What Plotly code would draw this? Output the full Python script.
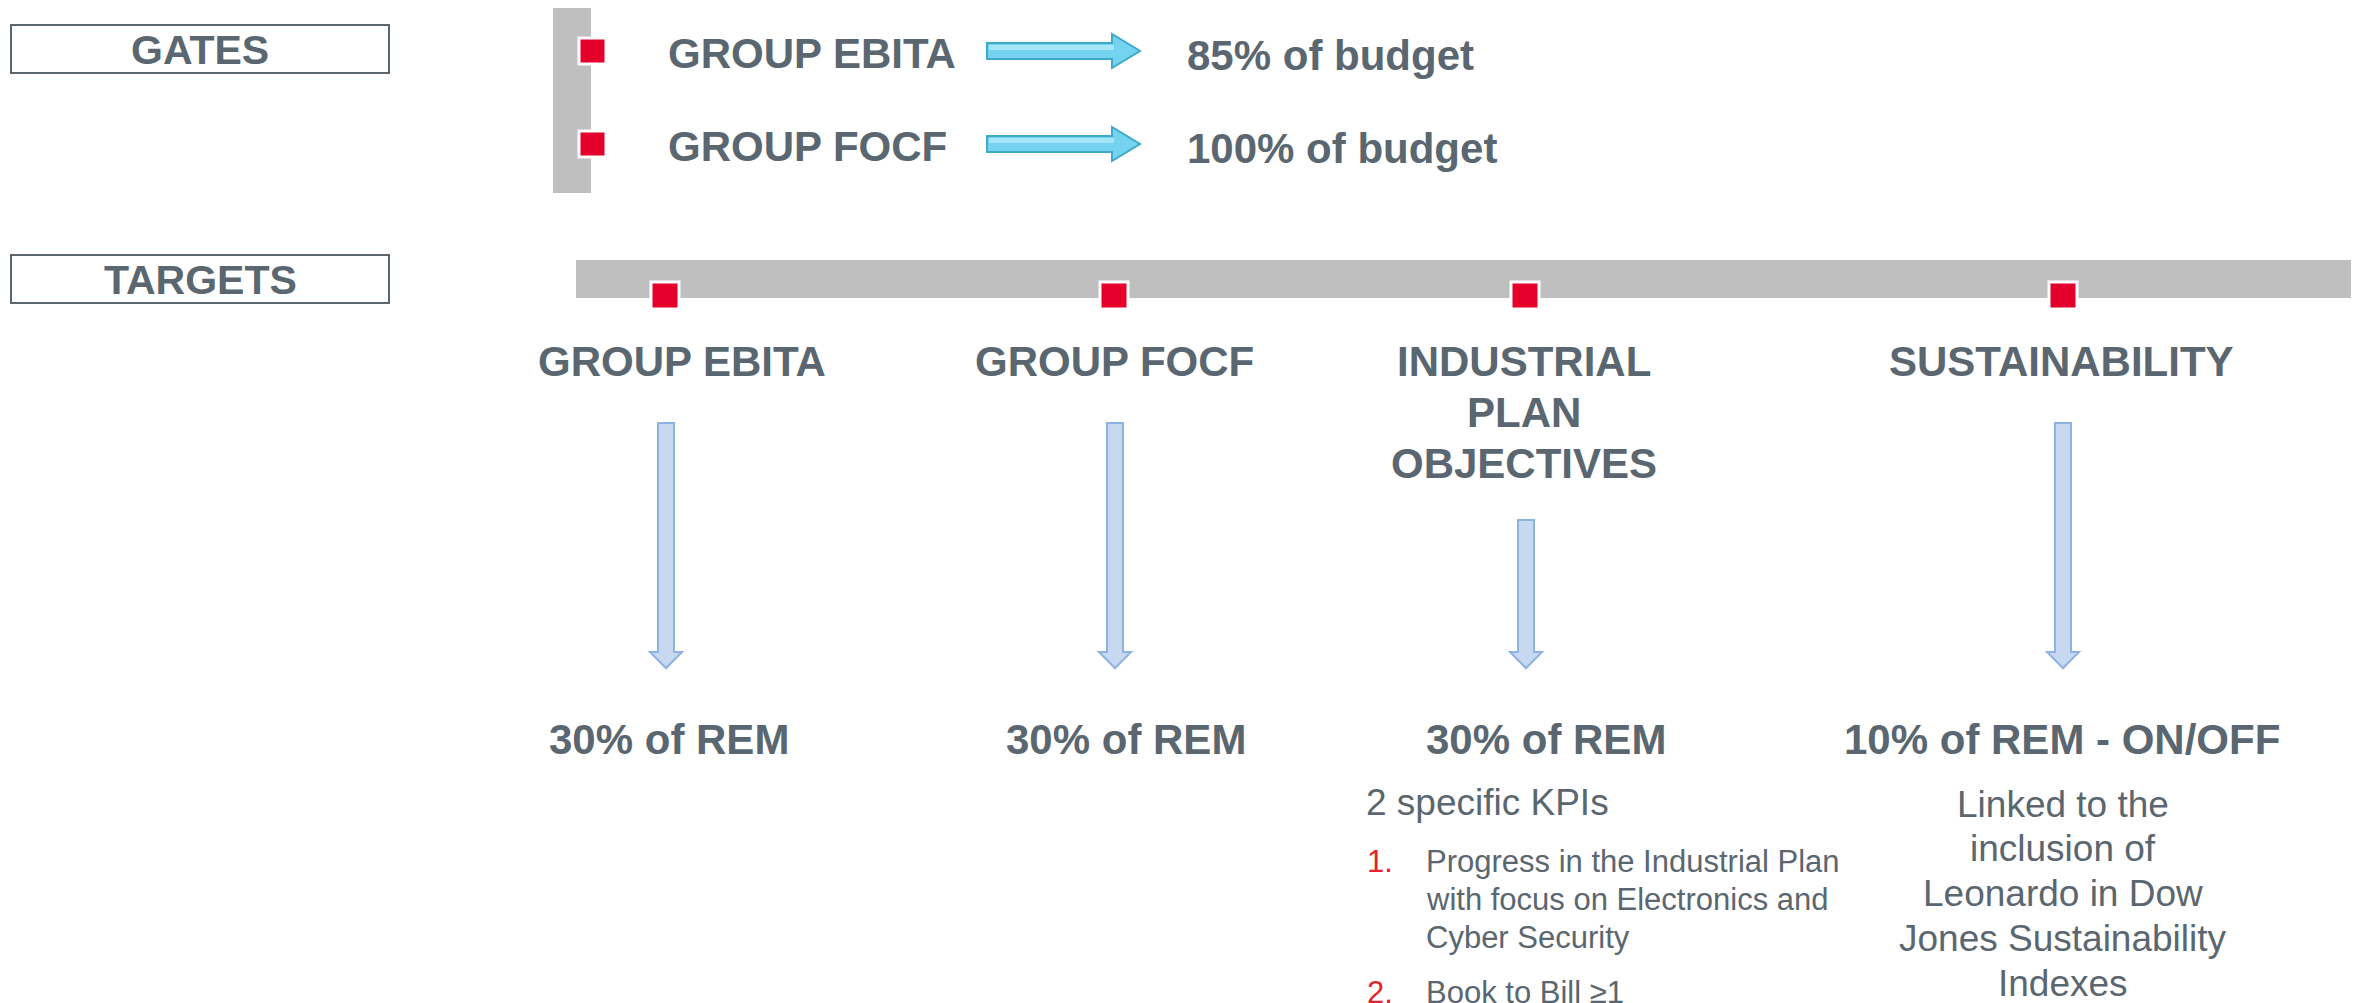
import plotly.graph_objects as go

# ---------------- data ----------------
gate_names = ["GROUP EBITA", "GROUP FOCF"]
gate_thresholds = ["85% of budget", "100% of budget"]

target_names = ["GROUP EBITA", "GROUP FOCF", "INDUSTRIAL<br>PLAN<br>OBJECTIVES", "SUSTAINABILITY"]
target_weights = [30, 30, 30, 10]
target_weight_suffix = ["", "", "", " - ON/OFF"]

kpi_intro = "2 specific KPIs"
kpi_numbers = ["1.", "2."]
kpi_items = [
    ["Progress in the Industrial Plan", "with focus on Electronics and", "Cyber Security"],
    ["Book to Bill ≥1"],
]
sustainability_note = ["Linked to the", "inclusion of", "Leonardo in Dow", "Jones Sustainability", "Indexes"]

section_labels = ["GATES", "TARGETS"]

# ---------------- style / layout constants ----------------
W, H = 2363, 1003
PAGE_OFF = 8  # default page body margin
TXT = "#5a6670"
RED = "#e4002b"
GREY = "#bfbfbf"
FONT = "Liberation Sans, Arial, sans-serif"

shapes = []
ann = []

def text(x, y, s, size, bold=False, color=TXT, xanchor="center"):
    ann.append(dict(x=x, y=y, xref="x", yref="y", text=f"<b>{s}</b>" if bold else s,
                    showarrow=False, xanchor=xanchor, yanchor="middle",
                    font=dict(family=FONT, size=size, color=color)))

# section boxes
box_y = [(25, 73), (255, 303)]
for lab, (y0, y1) in zip(section_labels, box_y):
    shapes.append(dict(type="rect", x0=11, x1=389, y0=y0, y1=y1,
                       line=dict(color=TXT, width=2), fillcolor="white"))
    text(200, (y0 + y1) / 2 + 1, lab, 41, bold=True)

# gates vertical bar
shapes.append(dict(type="rect", x0=553, x1=591, y0=6, y1=193, fillcolor=GREY, line_width=0, layer="below"))

gate_rows = [51, 144]
for name, thr, yc in zip(gate_names, gate_thresholds, gate_rows):
    shapes.append(dict(type="rect", x0=579, x1=606, y0=yc - 13, y1=yc + 13,
                       fillcolor=RED, line=dict(color="white", width=3)))
    text(666, yc + 2, name, 42, bold=True, xanchor="left")
    # cyan arrow
    x0, xh, xt = 987, 1112, 1140
    path = (f"M {x0},{yc-8} L {xh},{yc-8} L {xh},{yc-17} L {xt},{yc} "
            f"L {xh},{yc+17} L {xh},{yc+8} L {x0},{yc+8} Z")
    shapes.append(dict(type="path", path=path, fillcolor="#74d3ee", line=dict(color="#3fa9cc", width=2)))
    shapes.append(dict(type="path",
                       path=f"M {x0+2},{yc-6} L {xh+2},{yc-6} L {xh+2},{yc-1} L {x0+2},{yc-1} Z",
                       fillcolor="#a6e6f7", line_width=0))
    text(1185, yc + 4, thr, 42, bold=True, xanchor="left")

# targets horizontal bar
shapes.append(dict(type="rect", x0=576, x1=2351, y0=260, y1=298, fillcolor=GREY, line_width=0, layer="below"))

sq_x = [665, 1114, 1525, 2063]
label_x = [682, 1114, 1524, 2061]
arrow_top = [423, 423, 520, 423]
weight_x = [669, 1126, 1546, 2062]
for i, name in enumerate(target_names):
    xc = sq_x[i]
    shapes.append(dict(type="rect", x0=xc - 14, x1=xc + 14, y0=282, y1=309,
                       fillcolor=RED, line=dict(color="white", width=3)))
    for j, line in enumerate(name.split("<br>")):
        text(label_x[i], 361 + j * 51, line, 42, bold=True)
    # down arrow
    ax = xc + 1 if i < 3 else xc
    top, hs, tip = arrow_top[i], 652, 668
    path = (f"M {ax-8},{top} L {ax+8},{top} L {ax+8},{hs} L {ax+16},{hs} L {ax},{tip} "
            f"L {ax-16},{hs} L {ax-8},{hs} Z")
    shapes.append(dict(type="path", path=path.replace(f"{tip}", f"{tip+3}"),
                       fillcolor="rgba(0,0,0,0.06)", line_width=0))
    shapes.append(dict(type="path", path=path, fillcolor="#c6d9f1", line=dict(color="#8db3e2", width=2)))
    text(weight_x[i], 739, f"{target_weights[i]}% of REM{target_weight_suffix[i]}", 42, bold=True)

# industrial plan KPIs
text(1364, 802, kpi_intro, 37, xanchor="left")
kpi_y = [[861, 899, 937], [992]]
for num, lines, ys in zip(kpi_numbers, kpi_items, kpi_y):
    text(1365, ys[0], num, 31, color="#e8202a", xanchor="left")
    for line, y in zip(lines, ys):
        text(1424, y, line, 31, xanchor="left")

# sustainability note
for j, line in enumerate(sustainability_note):
    text(2063, 804 + j * 44.8, line, 37)

fig = go.Figure()
fig.update_layout(
    width=W - PAGE_OFF, height=H - PAGE_OFF, margin=dict(l=0, r=0, t=0, b=0),
    paper_bgcolor="white", plot_bgcolor="white",
    xaxis=dict(range=[PAGE_OFF, W], visible=False, fixedrange=True),
    yaxis=dict(range=[H, PAGE_OFF], visible=False, fixedrange=True),
    shapes=shapes, annotations=ann, showlegend=False,
)
fig.write_html("out.html")
